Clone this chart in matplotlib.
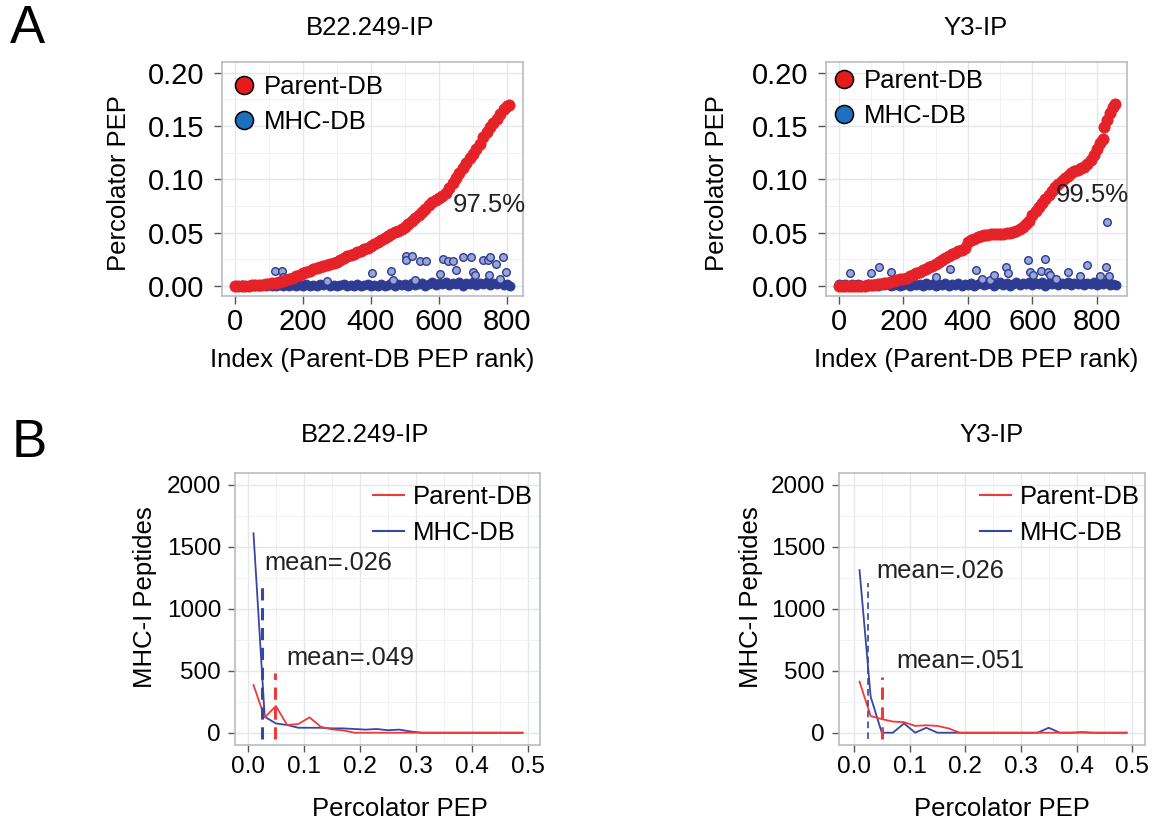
import numpy as np
import matplotlib
matplotlib.use("Agg")
import matplotlib.pyplot as plt
from matplotlib.lines import Line2D
from matplotlib.ticker import MultipleLocator, FormatStrFormatter

plt.rcParams['font.family'] = ['Liberation Sans', 'DejaVu Sans']

# ---------------- Panel A data: PEP per peptide, ordered by Parent-DB PEP rank
# B22.249-IP
b22_parent_idx = list(range(0, 801, 10)) + [806]
b22_parent_pep = [
    0.0, 0.0, 0.0, 0.0, 0.0003, 0.0005, 0.0008, 0.001, 0.0013, 0.0017,
    0.002, 0.0025, 0.003, 0.0037, 0.0045, 0.0055, 0.0065, 0.0078, 0.009, 0.0105,
    0.012, 0.0132, 0.0143, 0.0155, 0.0166, 0.0176, 0.0186, 0.0195, 0.0205, 0.0215,
    0.0228, 0.0243, 0.026, 0.0277, 0.029, 0.0303, 0.0316, 0.0329, 0.0342, 0.0357,
    0.0373, 0.039, 0.041, 0.043, 0.0452, 0.0472, 0.049, 0.0505, 0.0518, 0.0535,
    0.0557, 0.0585, 0.0612, 0.064, 0.0668, 0.0697, 0.0726, 0.0755, 0.0783, 0.0805,
    0.0825, 0.0845, 0.087, 0.0915, 0.097, 0.1015, 0.1062, 0.1108, 0.1155, 0.12,
    0.1235, 0.128, 0.1335, 0.1395, 0.1445, 0.149, 0.153, 0.157, 0.1612, 0.1655,
    0.169, 0.170]
b22_mhc_idx = list(range(0, 811, 10))
b22_mhc_pep = [
    0.000, 0.000, 0.001, 0.000, 0.000, 0.001, 0.000, 0.000, 0.001, 0.000,
    0.001, 0.000, 0.000, 0.001, 0.000, 0.002, 0.000, 0.001, 0.000, 0.001,
    0.000, 0.002, 0.000, 0.001, 0.000, 0.002, 0.001, 0.003, 0.000, 0.001,
    0.000, 0.001, 0.002, 0.000, 0.001, 0.000, 0.002, 0.000, 0.001, 0.002,
    0.000, 0.001, 0.000, 0.002, 0.000, 0.001, 0.003, 0.000, 0.002, 0.001,
    0.002, 0.000, 0.003, 0.001, 0.002, 0.003, 0.000, 0.002, 0.004, 0.001,
    0.003, 0.002, 0.004, 0.001, 0.003, 0.002, 0.004, 0.000, 0.003, 0.002,
    0.004, 0.001, 0.003, 0.002, 0.004, 0.001, 0.003, 0.002, 0.004, 0.001,
    0.002, 0.000]
b22_mhc_hi_idx = [117, 137, 140, 271, 404, 458, 465, 504, 504, 519, 529, 545, 563, 602, 612,
                  627, 641, 651, 671, 695, 701, 705, 729, 744, 747, 749, 767, 778, 788, 796]
b22_mhc_hi_pep = [0.0144, 0.0144, 0.0088, 0.005, 0.0125, 0.0144, 0.0056, 0.028, 0.024, 0.028,
                  0.0056, 0.023, 0.023, 0.011, 0.025, 0.023, 0.023, 0.015, 0.0275, 0.0275,
                  0.0134, 0.010, 0.024, 0.024, 0.010, 0.0275, 0.021, 0.007, 0.0275, 0.0134]

# Y3-IP
y3_parent_idx = list(range(0, 811, 10)) + [818, 822, 830, 840, 850, 857]
y3_parent_pep = [
    0.0, 0.0, 0.0, 0.0, 0.0, 0.0, 0.0, 0.0, 0.0003, 0.0005,
    0.0008, 0.0012, 0.0016, 0.002, 0.0025, 0.003, 0.0037, 0.0045, 0.0053, 0.0062,
    0.0068, 0.0078, 0.009, 0.0105, 0.012, 0.0133, 0.0147, 0.016, 0.0175, 0.019,
    0.021, 0.0228, 0.0245, 0.0263, 0.028, 0.0297, 0.031, 0.0325, 0.034, 0.0358,
    0.0412, 0.0428, 0.0445, 0.046, 0.0472, 0.048, 0.0482, 0.0483, 0.0484, 0.0485,
    0.0487, 0.049, 0.0495, 0.050, 0.0508, 0.052, 0.0535, 0.0555, 0.058, 0.0605,
    0.0665, 0.0703, 0.074, 0.078, 0.082, 0.0855, 0.089, 0.0925, 0.0955, 0.0985,
    0.101, 0.1035, 0.1055, 0.1075, 0.109, 0.1105, 0.112, 0.1145, 0.118, 0.1225,
    0.128, 0.1345, 0.138, 0.149, 0.156, 0.162, 0.168, 0.171]
y3_mhc_idx = list(range(0, 861, 10))
y3_mhc_pep = [
    0.002, 0.001, 0.002, 0.000, 0.002, 0.001, 0.002, 0.000, 0.001, 0.002,
    0.001, 0.002, 0.000, 0.002, 0.001, 0.002, 0.000, 0.001, 0.002, 0.000,
    0.001, 0.002, 0.000, 0.003, 0.001, 0.002, 0.000, 0.003, 0.001, 0.002,
    0.000, 0.002, 0.001, 0.003, 0.000, 0.002, 0.001, 0.003, 0.000, 0.002,
    0.001, 0.003, 0.000, 0.002, 0.004, 0.001, 0.002, 0.003, 0.000, 0.002,
    0.004, 0.001, 0.003, 0.000, 0.002, 0.004, 0.001, 0.003, 0.002, 0.004,
    0.001, 0.003, 0.002, 0.004, 0.000, 0.003, 0.002, 0.004, 0.001, 0.003,
    0.002, 0.004, 0.001, 0.003, 0.002, 0.004, 0.001, 0.003, 0.002, 0.004,
    0.001, 0.003, 0.002, 0.004, 0.001, 0.002, 0.001]
y3_mhc_hi_idx = [35, 100, 124, 162, 302, 345, 424, 444, 467, 480, 517, 524, 586, 591, 602,
                 627, 638, 648, 653, 674, 710, 746, 769, 808, 829, 831, 837]
y3_mhc_hi_pep = [0.0125, 0.0125, 0.0175, 0.0134, 0.008, 0.016, 0.015, 0.007, 0.0056, 0.010,
                 0.0175, 0.012, 0.024, 0.013, 0.010, 0.014, 0.025, 0.013, 0.010, 0.007,
                 0.013, 0.009, 0.020, 0.009, 0.018, 0.060, 0.009]

# ---------------- Panel B data: number of MHC-I peptides per PEP bin
pep_bins = [0.01, 0.03, 0.05, 0.07, 0.09, 0.11, 0.13, 0.15, 0.17, 0.19, 0.21, 0.23, 0.25,
            0.27, 0.29, 0.31, 0.33, 0.35, 0.37, 0.39, 0.41, 0.43, 0.45, 0.47, 0.49]
b22_parent_counts = [385, 124, 215, 62, 70, 124, 48, 27, 19, 0, 0, 0, 0,
                     0, 0, 0, 0, 0, 0, 0, 0, 0, 0, 0, 0]
b22_mhc_counts = [1610, 129, 75, 62, 40, 40, 40, 35, 35, 30, 25, 30, 20,
                  25, 10, 0, 0, 0, 0, 0, 0, 0, 0, 0, 0]
y3_parent_counts = [412, 135, 110, 90, 85, 55, 60, 55, 35, 0, 0, 0, 0,
                    0, 0, 0, 0, 0, 0, 0, 0, 0, 0, 0, 0]
y3_mhc_counts = [1313, 291, 0, 0, 75, 0, 40, 0, 0, 0, 0, 0, 0,
                 0, 0, 0, 0, 40, 0, 0, 5, 0, 0, 0, 0]
b22_means = {"MHC-DB": 0.026, "Parent-DB": 0.049}
y3_means = {"MHC-DB": 0.026, "Parent-DB": 0.051}

panel_titles = ["B22.249-IP", "Y3-IP"]
percent_labels = ["97.5%", "99.5%"]

# ---------------- styling
RED = "#e42228"
NAVY = "#2e3b93"
LINE_RED = "#f03a3a"
LINE_BLUE = "#3646a3"
BORDER = "#b9bcc3"
GRID_MAJ = "#e4e7ec"
GRID_MIN = "#f0f2f5"

fig = plt.figure(figsize=(11.57, 8.22), dpi=100)


def style_axes(ax, xmaj, xmin, ymaj, ymin, labelsize, length, xpad, ypad):
    ax.xaxis.set_major_locator(MultipleLocator(xmaj))
    ax.xaxis.set_minor_locator(MultipleLocator(xmin))
    ax.yaxis.set_major_locator(MultipleLocator(ymaj))
    ax.yaxis.set_minor_locator(MultipleLocator(ymin))
    ax.grid(which="major", color=GRID_MAJ, lw=1.0)
    ax.grid(which="minor", color=GRID_MIN, lw=0.7)
    ax.set_axisbelow(True)
    for sp in ax.spines.values():
        sp.set_color(BORDER)
        sp.set_linewidth(1.2)
    ax.tick_params(which="major", labelsize=labelsize, length=length, width=1.0,
                   color="#555555", labelcolor="black")
    ax.tick_params(axis="x", pad=xpad)
    ax.tick_params(axis="y", pad=ypad)
    ax.tick_params(which="minor", length=0)


# ---------------- Panel A
a_axes_rect = [[0.1919, 0.6399, 0.2602, 0.2847], [0.7139, 0.6399, 0.2602, 0.2847]]
a_xlims = [(-38, 847), (-40, 893)]
a_data = [
    (b22_parent_idx, b22_parent_pep, b22_mhc_idx, b22_mhc_pep, b22_mhc_hi_idx, b22_mhc_hi_pep),
    (y3_parent_idx, y3_parent_pep, y3_mhc_idx, y3_mhc_pep, y3_mhc_hi_idx, y3_mhc_hi_pep),
]
a_pct_pos = [(641, 0.0694), (673, 0.079)]
a_ylabel_x = [-0.342, -0.362]
a_legend_anchor = [(0.040, 0.945), (0.027, 0.969)]
a_title_x = [0.492, 0.498]

for k in range(2):
    ax = fig.add_axes(a_axes_rect[k])
    p_idx, p_pep, m_idx, m_pep, h_idx, h_pep = a_data[k]
    ax.scatter(m_idx, m_pep, s=40, facecolor=NAVY, edgecolor=NAVY, linewidth=0.8, zorder=2)
    ax.scatter(h_idx, h_pep, s=30, facecolor="#9aa5d6", edgecolor=NAVY, linewidth=1.0, zorder=2)
    ax.scatter(p_idx, p_pep, s=66, facecolor=RED, edgecolor=RED, linewidth=0.5, zorder=3)
    ax.set_xlim(*a_xlims[k])
    ax.set_ylim(-0.0094, 0.21)
    style_axes(ax, 200, 100, 0.05, 0.025, 21, 6, 2.5, 6.5)
    ax.yaxis.set_major_formatter(FormatStrFormatter("%.2f"))
    ax.text(a_pct_pos[k][0], a_pct_pos[k][1], percent_labels[k], fontsize=18.5,
            ha="left", va="baseline", color="#222222", clip_on=False, zorder=4)
    ax.set_xlabel("Index (Parent-DB PEP rank)", fontsize=18.6)
    ax.xaxis.label.set_va("baseline")
    ax.xaxis.set_label_coords(0.5, -0.305)
    ax.set_ylabel("Percolator PEP", fontsize=18.5)
    ax.yaxis.label.set_va("center")
    ax.yaxis.set_label_coords(a_ylabel_x[k], 0.483)
    ax.set_title(panel_titles[k], fontsize=18.5, x=a_title_x[k], y=1.081, va="baseline")
    handles = [
        Line2D([], [], ls="", marker="o", markersize=13, markerfacecolor="#e41a1c",
               markeredgecolor="black", markeredgewidth=1.1),
        Line2D([], [], ls="", marker="o", markersize=13, markerfacecolor="#1d6fbf",
               markeredgecolor="black", markeredgewidth=1.1),
    ]
    ax.legend(handles, ["Parent-DB", "MHC-DB"], loc="upper left",
              bbox_to_anchor=a_legend_anchor[k], frameon=False, fontsize=18.5,
              handlelength=0.8, handletextpad=0.35, borderpad=0, borderaxespad=0,
              labelspacing=0.42)

# ---------------- Panel B
b_axes_rect = [[0.2031, 0.0937, 0.2636, 0.3309], [0.7251, 0.0937, 0.2645, 0.3309]]
b_xlims = [(-0.023, 0.521), (-0.027, 0.523)]
b_counts = [(b22_parent_counts, b22_mhc_counts), (y3_parent_counts, y3_mhc_counts)]
b_means = [b22_means, y3_means]
b_mhc_dash = [(1233, 2.2), (1206, 1.2)]
b_parent_dash = [(479, 2.2), (452, 2.2)]
b_mean_text = [((0.030, 1314), (0.069, 547)), ((0.041, 1247), (0.0755, 522))]
b_ylabel_x = [-0.295, -0.288]
b_xlabel_x = [0.542, 0.532]
b_title_x = [0.426, 0.499]
b_legend_anchor = [(0.452, 0.955), (0.461, 0.955)]

for k in range(2):
    ax = fig.add_axes(b_axes_rect[k])
    parent_c, mhc_c = b_counts[k]
    ax.plot(pep_bins, mhc_c, color=LINE_BLUE, lw=1.3, zorder=3, label="MHC-DB")
    ax.plot(pep_bins, parent_c, color=LINE_RED, lw=1.3, zorder=3, label="Parent-DB")
    ax.vlines(b_means[k]["MHC-DB"], -50, b_mhc_dash[k][0], colors=LINE_BLUE,
              linestyles=(0, (4, 2.5)), lw=b_mhc_dash[k][1], zorder=4)
    ax.vlines(b_means[k]["Parent-DB"], -50, b_parent_dash[k][0], colors=LINE_RED,
              linestyles=(0, (4, 2.5)), lw=b_parent_dash[k][1], zorder=4)
    (tx1, ty1), (tx2, ty2) = b_mean_text[k]
    ax.text(tx1, ty1, "mean=" + ("%.3f" % b_means[k]["MHC-DB"])[1:], fontsize=18.3,
            ha="left", va="baseline", color="#222222")
    ax.text(tx2, ty2, "mean=" + ("%.3f" % b_means[k]["Parent-DB"])[1:], fontsize=18.3,
            ha="left", va="baseline", color="#222222")
    ax.set_xlim(*b_xlims[k])
    ax.set_ylim(-99, 2097)
    style_axes(ax, 0.1, 0.05, 500, 250, 17.5, 5, 3, 5)
    ax.xaxis.set_major_formatter(FormatStrFormatter("%.1f"))
    ax.set_xlabel("Percolator PEP", fontsize=18.5)
    ax.xaxis.label.set_va("baseline")
    ax.xaxis.set_label_coords(b_xlabel_x[k], -0.261)
    ax.set_ylabel("MHC-I Peptides", fontsize=18.5)
    ax.yaxis.label.set_va("center")
    ax.yaxis.set_label_coords(b_ylabel_x[k], 0.545)
    ax.set_title(panel_titles[k], fontsize=18.5, x=b_title_x[k], y=1.0846, va="baseline")
    handles = [Line2D([], [], color=LINE_RED, lw=1.5), Line2D([], [], color=LINE_BLUE, lw=1.5)]
    ax.legend(handles, ["Parent-DB", "MHC-DB"], loc="upper left",
              bbox_to_anchor=b_legend_anchor[k], frameon=False, fontsize=18.5,
              handlelength=1.2, handletextpad=0.35, borderpad=0, borderaxespad=0,
              labelspacing=0.45)

# panel letters
fig.text(10 / 1157, 1 - 43 / 822, "A", fontsize=38, ha="left", va="baseline")
fig.text(12 / 1157, 1 - 456.7 / 822, "B", fontsize=38, ha="left", va="baseline")

fig.savefig("out.png", dpi=100, facecolor="white")
